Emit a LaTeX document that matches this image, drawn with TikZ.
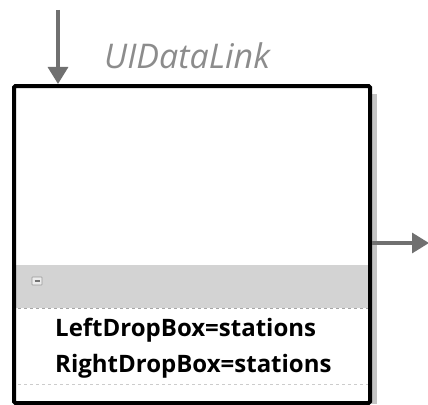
\documentclass[tikz,border=0pt]{standalone}
\usepackage{fontspec}
\setmainfont{Open Sans}
\usetikzlibrary{arrows.meta}
\definecolor{arrowgray}{HTML}{707070}
\definecolor{titlegray}{HTML}{8C8C8C}
\definecolor{bandgray}{HTML}{D3D3D3}
\definecolor{shadowgray}{HTML}{C4C4C4}
\tikzset{
  conn/.style={draw=arrowgray, line width=3.2pt, -{Triangle[length=17pt,width=20pt]}},
  frame/.style={draw=black, line width=4pt, rounded corners=1.5pt},
  rowtext/.style={anchor=west, inner sep=0pt, font=\fontsize{24}{28}\selectfont\bfseries},
}
\begin{document}
\begin{tikzpicture}[x=1pt,y=-1pt]
\useasboundingbox (0,0) rectangle (428,404);
% shadow
\fill[shadowgray] (368,94) rectangle (377,404);
% body
\fill[white] (12,84) rectangle (368,401);
\fill[bandgray] (12,265) rectangle (368,308);
\draw[gray!70, dashed, line width=0.6pt] (12,308) -- (368,308);
\draw[gray!40, dashed, line width=0.5pt] (12,384) -- (368,384);
% minus icon
\draw[gray!80, fill=gray!15, line width=0.6pt, rounded corners=0.5pt] (32,277) rectangle (42,285);
\draw[gray!90!black, line width=1.2pt] (34.5,281) -- (39.5,281);
% frame
\node[frame, minimum width=356pt, minimum height=317pt, anchor=north west, inner sep=0pt] (box) at (12,84) {};
% texts
\node[anchor=west, inner sep=0pt, text=titlegray, font=\fontsize{34}{40}\selectfont\itshape] (title) at (104,56) {UIDataLink};
\node[rowtext] (left) at (55,330) {LeftDropBox=stations};
\node[rowtext] (right) at (55,366) {RightDropBox=stations};
% connectors
\coordinate (tin) at (58,10);
\coordinate (tout) at (429,243);
\draw[conn] (tin) -- (tin |- box.north);
\draw[conn] (box.east |- tout) -- (tout);
\end{tikzpicture}
\end{document}
